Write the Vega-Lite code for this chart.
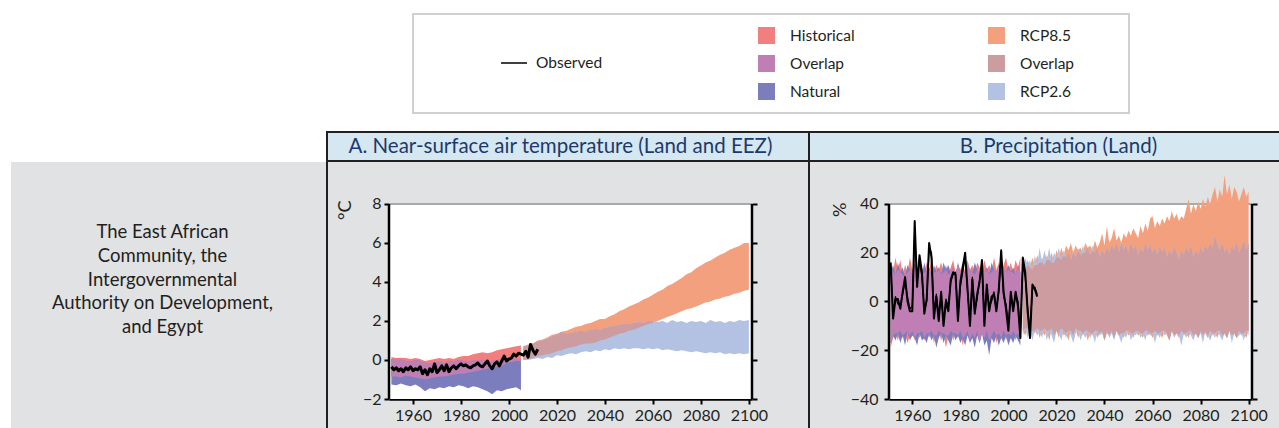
{
"$schema": "https://vega.github.io/schema/vega-lite/v6.json",
"padding": 0,
"background": "#e1e2e3",
"spacing": 0,
"datasets": {
"A1": [
{"t":1951,"hh":0.15,"hl":-0.85,"nh":0.05,"nl":-1.25},
{"t":1953,"hh":0.1,"hl":-0.85,"nh":0.0,"nl":-1.3},
{"t":1955,"hh":0.12,"hl":-0.9,"nh":0.02,"nl":-1.2},
{"t":1957,"hh":0.1,"hl":-0.8,"nh":-0.05,"nl":-1.3},
{"t":1959,"hh":0.05,"hl":-0.85,"nh":-0.1,"nl":-1.35},
{"t":1961,"hh":0.1,"hl":-0.9,"nh":0.0,"nl":-1.25},
{"t":1963,"hh":0.05,"hl":-0.95,"nh":-0.05,"nl":-1.4},
{"t":1965,"hh":-0.05,"hl":-1.0,"nh":-0.15,"nl":-1.6},
{"t":1967,"hh":0.0,"hl":-0.95,"nh":-0.2,"nl":-1.45},
{"t":1969,"hh":0.05,"hl":-0.9,"nh":-0.15,"nl":-1.5},
{"t":1971,"hh":0.1,"hl":-0.85,"nh":-0.1,"nl":-1.4},
{"t":1973,"hh":0.05,"hl":-0.85,"nh":-0.15,"nl":-1.45},
{"t":1975,"hh":0.1,"hl":-0.8,"nh":-0.05,"nl":-1.35},
{"t":1977,"hh":0.05,"hl":-0.75,"nh":-0.1,"nl":-1.4},
{"t":1979,"hh":0.15,"hl":-0.7,"nh":0.0,"nl":-1.3},
{"t":1981,"hh":0.2,"hl":-0.7,"nh":-0.05,"nl":-1.35},
{"t":1983,"hh":0.2,"hl":-0.65,"nh":-0.1,"nl":-1.45},
{"t":1985,"hh":0.3,"hl":-0.6,"nh":0.0,"nl":-1.35},
{"t":1987,"hh":0.35,"hl":-0.55,"nh":-0.05,"nl":-1.4},
{"t":1989,"hh":0.4,"hl":-0.5,"nh":0.0,"nl":-1.5},
{"t":1991,"hh":0.35,"hl":-0.45,"nh":-0.1,"nl":-1.6},
{"t":1993,"hh":0.4,"hl":-0.4,"nh":-0.05,"nl":-1.75},
{"t":1995,"hh":0.5,"hl":-0.35,"nh":0.0,"nl":-1.55},
{"t":1997,"hh":0.55,"hl":-0.3,"nh":0.05,"nl":-1.6},
{"t":1999,"hh":0.6,"hl":-0.15,"nh":0.1,"nl":-1.5},
{"t":2001,"hh":0.65,"hl":-0.1,"nh":0.1,"nl":-1.45},
{"t":2003,"hh":0.7,"hl":-0.05,"nh":0.05,"nl":-1.4},
{"t":2005,"hh":0.75,"hl":-0.05,"nh":0.05,"nl":-1.55}
],
"A2": [
{"t":2006,"eh":0.7,"el":0.0,"ch":0.7,"cl":0.0},
{"t":2008,"eh":0.8,"el":0.05,"ch":0.75,"cl":0.0},
{"t":2010,"eh":0.85,"el":0.1,"ch":0.85,"cl":0.05},
{"t":2012,"eh":1.0,"el":0.2,"ch":0.95,"cl":0.1},
{"t":2014,"eh":1.05,"el":0.25,"ch":1.0,"cl":0.05},
{"t":2016,"eh":1.15,"el":0.3,"ch":1.1,"cl":0.15},
{"t":2018,"eh":1.3,"el":0.35,"ch":1.2,"cl":0.1},
{"t":2020,"eh":1.35,"el":0.45,"ch":1.3,"cl":0.25},
{"t":2022,"eh":1.45,"el":0.5,"ch":1.45,"cl":0.2},
{"t":2024,"eh":1.5,"el":0.6,"ch":1.35,"cl":0.3},
{"t":2026,"eh":1.6,"el":0.65,"ch":1.4,"cl":0.35},
{"t":2028,"eh":1.7,"el":0.7,"ch":1.45,"cl":0.3},
{"t":2030,"eh":1.75,"el":0.8,"ch":1.5,"cl":0.4},
{"t":2032,"eh":1.85,"el":0.85,"ch":1.45,"cl":0.45},
{"t":2034,"eh":1.9,"el":0.85,"ch":1.55,"cl":0.4},
{"t":2036,"eh":2.0,"el":0.9,"ch":1.6,"cl":0.5},
{"t":2038,"eh":2.1,"el":1.0,"ch":1.55,"cl":0.45},
{"t":2040,"eh":2.1,"el":1.05,"ch":1.65,"cl":0.55},
{"t":2042,"eh":2.25,"el":1.15,"ch":1.7,"cl":0.5},
{"t":2044,"eh":2.35,"el":1.25,"ch":1.75,"cl":0.6},
{"t":2046,"eh":2.5,"el":1.35,"ch":1.8,"cl":0.55},
{"t":2048,"eh":2.6,"el":1.4,"ch":1.85,"cl":0.6},
{"t":2050,"eh":2.75,"el":1.5,"ch":1.85,"cl":0.55},
{"t":2052,"eh":2.85,"el":1.55,"ch":1.9,"cl":0.6},
{"t":2054,"eh":2.95,"el":1.65,"ch":1.95,"cl":0.6},
{"t":2056,"eh":3.1,"el":1.75,"ch":1.9,"cl":0.55},
{"t":2058,"eh":3.2,"el":1.85,"ch":2.0,"cl":0.6},
{"t":2060,"eh":3.35,"el":1.9,"ch":2.0,"cl":0.55},
{"t":2062,"eh":3.5,"el":2.0,"ch":1.95,"cl":0.6},
{"t":2064,"eh":3.6,"el":2.1,"ch":2.0,"cl":0.5},
{"t":2066,"eh":3.8,"el":2.2,"ch":1.9,"cl":0.55},
{"t":2068,"eh":3.9,"el":2.3,"ch":2.05,"cl":0.5},
{"t":2070,"eh":4.05,"el":2.4,"ch":1.95,"cl":0.45},
{"t":2072,"eh":4.2,"el":2.5,"ch":2.0,"cl":0.5},
{"t":2074,"eh":4.4,"el":2.6,"ch":1.9,"cl":0.45},
{"t":2076,"eh":4.5,"el":2.65,"ch":2.0,"cl":0.4},
{"t":2078,"eh":4.7,"el":2.75,"ch":1.95,"cl":0.45},
{"t":2080,"eh":4.85,"el":2.85,"ch":2.0,"cl":0.4},
{"t":2082,"eh":5.0,"el":2.95,"ch":1.9,"cl":0.35},
{"t":2084,"eh":5.1,"el":3.0,"ch":2.05,"cl":0.4},
{"t":2086,"eh":5.25,"el":3.1,"ch":1.95,"cl":0.35},
{"t":2088,"eh":5.4,"el":3.15,"ch":2.0,"cl":0.4},
{"t":2090,"eh":5.5,"el":3.25,"ch":1.9,"cl":0.3},
{"t":2092,"eh":5.65,"el":3.3,"ch":2.0,"cl":0.35},
{"t":2094,"eh":5.75,"el":3.4,"ch":1.95,"cl":0.3},
{"t":2096,"eh":5.85,"el":3.45,"ch":2.05,"cl":0.35},
{"t":2098,"eh":6.0,"el":3.55,"ch":2.0,"cl":0.3},
{"t":2100,"eh":6.0,"el":3.6,"ch":2.05,"cl":0.35}
],
"Aobs": [
{"t":1951,"v":-0.35},{"t":1952,"v":-0.5},{"t":1953,"v":-0.4},{"t":1954,"v":-0.55},{"t":1955,"v":-0.45},{"t":1956,"v":-0.6},{"t":1957,"v":-0.4},{"t":1958,"v":-0.5},{"t":1959,"v":-0.35},{"t":1960,"v":-0.55},
{"t":1961,"v":-0.45},{"t":1962,"v":-0.5},{"t":1963,"v":-0.35},{"t":1964,"v":-0.7},{"t":1965,"v":-0.5},{"t":1966,"v":-0.75},{"t":1967,"v":-0.45},{"t":1968,"v":-0.6},{"t":1969,"v":-0.2},{"t":1970,"v":-0.65},
{"t":1971,"v":-0.5},{"t":1972,"v":-0.3},{"t":1973,"v":-0.55},{"t":1974,"v":-0.25},{"t":1975,"v":-0.6},{"t":1976,"v":-0.4},{"t":1977,"v":-0.3},{"t":1978,"v":-0.45},{"t":1979,"v":-0.3},{"t":1980,"v":-0.2},
{"t":1981,"v":-0.3},{"t":1982,"v":-0.25},{"t":1983,"v":-0.35},{"t":1984,"v":-0.4},{"t":1985,"v":-0.3},{"t":1986,"v":-0.25},{"t":1987,"v":-0.15},{"t":1988,"v":-0.3},{"t":1989,"v":-0.35},{"t":1990,"v":-0.2},
{"t":1991,"v":-0.05},{"t":1992,"v":-0.3},{"t":1993,"v":-0.45},{"t":1994,"v":-0.2},{"t":1995,"v":-0.1},{"t":1996,"v":-0.3},{"t":1997,"v":-0.05},{"t":1998,"v":0.2},{"t":1999,"v":-0.05},{"t":2000,"v":0.05},
{"t":2001,"v":0.1},{"t":2002,"v":0.3},{"t":2003,"v":0.2},{"t":2004,"v":0.35},{"t":2005,"v":0.3},{"t":2006,"v":0.25},{"t":2007,"v":0.45},{"t":2008,"v":0.15},{"t":2009,"v":0.8},{"t":2010,"v":0.5},
{"t":2011,"v":0.3},{"t":2012,"v":0.55}
],
"B1": [
{"t":1951,"hh":16,"hl":-19,"nh":12,"nl":-17,"oh":12,"ol":-17},
{"t":1952,"hh":12,"hl":-15,"nh":15,"nl":-14,"oh":12,"ol":-14},
{"t":1953,"hh":18,"hl":-13,"nh":11,"nl":-16,"oh":11,"ol":-13},
{"t":1954,"hh":13,"hl":-16,"nh":16,"nl":-13,"oh":13,"ol":-13},
{"t":1955,"hh":17,"hl":-12,"nh":12,"nl":-17,"oh":12,"ol":-12},
{"t":1956,"hh":11,"hl":-15,"nh":14,"nl":-14,"oh":11,"ol":-14},
{"t":1957,"hh":15,"hl":-13,"nh":10,"nl":-18,"oh":10,"ol":-13},
{"t":1958,"hh":12,"hl":-17,"nh":15,"nl":-12,"oh":12,"ol":-12},
{"t":1959,"hh":18,"hl":-14,"nh":13,"nl":-16,"oh":13,"ol":-14},
{"t":1960,"hh":13,"hl":-12,"nh":11,"nl":-14,"oh":11,"ol":-12},
{"t":1961,"hh":15,"hl":-16,"nh":16,"nl":-15,"oh":15,"ol":-15},
{"t":1962,"hh":12,"hl":-13,"nh":12,"nl":-18,"oh":12,"ol":-13},
{"t":1963,"hh":17,"hl":-15,"nh":14,"nl":-13,"oh":14,"ol":-13},
{"t":1964,"hh":14,"hl":-12,"nh":11,"nl":-16,"oh":11,"ol":-12},
{"t":1965,"hh":12,"hl":-16,"nh":16,"nl":-15,"oh":12,"ol":-15},
{"t":1966,"hh":16,"hl":-13,"nh":12,"nl":-17,"oh":12,"ol":-13},
{"t":1967,"hh":13,"hl":-15,"nh":14,"nl":-13,"oh":13,"ol":-13},
{"t":1968,"hh":17,"hl":-12,"nh":11,"nl":-16,"oh":11,"ol":-12},
{"t":1969,"hh":12,"hl":-17,"nh":15,"nl":-14,"oh":12,"ol":-14},
{"t":1970,"hh":15,"hl":-14,"nh":12,"nl":-19,"oh":12,"ol":-14},
{"t":1971,"hh":13,"hl":-12,"nh":14,"nl":-15,"oh":13,"ol":-12},
{"t":1972,"hh":16,"hl":-16,"nh":11,"nl":-13,"oh":11,"ol":-13},
{"t":1973,"hh":12,"hl":-13,"nh":16,"nl":-17,"oh":12,"ol":-13},
{"t":1974,"hh":15,"hl":-19,"nh":13,"nl":-14,"oh":13,"ol":-14},
{"t":1975,"hh":11,"hl":-14,"nh":15,"nl":-16,"oh":11,"ol":-14},
{"t":1976,"hh":14,"hl":-12,"nh":12,"nl":-18,"oh":12,"ol":-12},
{"t":1977,"hh":17,"hl":-16,"nh":14,"nl":-13,"oh":14,"ol":-13},
{"t":1978,"hh":12,"hl":-13,"nh":11,"nl":-16,"oh":11,"ol":-13},
{"t":1979,"hh":15,"hl":-15,"nh":16,"nl":-14,"oh":15,"ol":-14},
{"t":1980,"hh":13,"hl":-12,"nh":12,"nl":-17,"oh":12,"ol":-12},
{"t":1981,"hh":16,"hl":-18,"nh":14,"nl":-15,"oh":14,"ol":-15},
{"t":1982,"hh":12,"hl":-14,"nh":11,"nl":-18,"oh":11,"ol":-14},
{"t":1983,"hh":17,"hl":-12,"nh":15,"nl":-14,"oh":15,"ol":-12},
{"t":1984,"hh":13,"hl":-16,"nh":13,"nl":-17,"oh":13,"ol":-16},
{"t":1985,"hh":15,"hl":-13,"nh":12,"nl":-15,"oh":12,"ol":-13},
{"t":1986,"hh":11,"hl":-15,"nh":16,"nl":-19,"oh":11,"ol":-15},
{"t":1987,"hh":16,"hl":-12,"nh":13,"nl":-14,"oh":13,"ol":-12},
{"t":1988,"hh":14,"hl":-17,"nh":11,"nl":-17,"oh":11,"ol":-17},
{"t":1989,"hh":12,"hl":-13,"nh":15,"nl":-13,"oh":12,"ol":-13},
{"t":1990,"hh":17,"hl":-15,"nh":12,"nl":-18,"oh":12,"ol":-15},
{"t":1991,"hh":13,"hl":-12,"nh":14,"nl":-16,"oh":13,"ol":-12},
{"t":1992,"hh":15,"hl":-16,"nh":11,"nl":-22,"oh":11,"ol":-16},
{"t":1993,"hh":12,"hl":-14,"nh":16,"nl":-15,"oh":12,"ol":-14},
{"t":1994,"hh":18,"hl":-12,"nh":13,"nl":-17,"oh":13,"ol":-12},
{"t":1995,"hh":13,"hl":-17,"nh":12,"nl":-14,"oh":12,"ol":-14},
{"t":1996,"hh":16,"hl":-13,"nh":15,"nl":-18,"oh":15,"ol":-13},
{"t":1997,"hh":12,"hl":-15,"nh":11,"nl":-15,"oh":11,"ol":-15},
{"t":1998,"hh":15,"hl":-12,"nh":14,"nl":-17,"oh":14,"ol":-12},
{"t":1999,"hh":18,"hl":-16,"nh":12,"nl":-14,"oh":12,"ol":-14},
{"t":2000,"hh":13,"hl":-13,"nh":15,"nl":-18,"oh":13,"ol":-13},
{"t":2001,"hh":16,"hl":-14,"nh":12,"nl":-15,"oh":12,"ol":-14},
{"t":2002,"hh":12,"hl":-12,"nh":14,"nl":-17,"oh":12,"ol":-12},
{"t":2003,"hh":17,"hl":-16,"nh":11,"nl":-14,"oh":11,"ol":-14},
{"t":2004,"hh":14,"hl":-13,"nh":15,"nl":-16,"oh":14,"ol":-13},
{"t":2005,"hh":18,"hl":-15,"nh":12,"nl":-18,"oh":12,"ol":-15}
],
"B2": [
{"t":2006,"eh":16,"el":-12,"ch":14,"cl":-14,"oh":14,"ol":-12},
{"t":2007,"eh":13,"el":-14,"ch":18,"cl":-11,"oh":13,"ol":-11},
{"t":2008,"eh":17,"el":-11,"ch":15,"cl":-15,"oh":15,"ol":-11},
{"t":2009,"eh":14,"el":-15,"ch":17,"cl":-12,"oh":14,"ol":-12},
{"t":2010,"eh":18,"el":-12,"ch":13,"cl":-16,"oh":13,"ol":-12},
{"t":2011,"eh":15,"el":-13,"ch":19,"cl":-12,"oh":15,"ol":-12},
{"t":2012,"eh":19,"el":-11,"ch":15,"cl":-14,"oh":15,"ol":-11},
{"t":2013,"eh":16,"el":-15,"ch":22,"cl":-12,"oh":16,"ol":-12},
{"t":2014,"eh":18,"el":-12,"ch":16,"cl":-15,"oh":16,"ol":-12},
{"t":2015,"eh":15,"el":-14,"ch":21,"cl":-11,"oh":15,"ol":-11},
{"t":2016,"eh":19,"el":-12,"ch":17,"cl":-16,"oh":17,"ol":-12},
{"t":2017,"eh":17,"el":-16,"ch":22,"cl":-12,"oh":17,"ol":-12},
{"t":2018,"eh":20,"el":-11,"ch":16,"cl":-14,"oh":16,"ol":-11},
{"t":2019,"eh":16,"el":-14,"ch":20,"cl":-17,"oh":16,"ol":-14},
{"t":2020,"eh":21,"el":-12,"ch":18,"cl":-12,"oh":18,"ol":-12},
{"t":2021,"eh":18,"el":-15,"ch":22,"cl":-13,"oh":18,"ol":-13},
{"t":2022,"eh":22,"el":-11,"ch":17,"cl":-16,"oh":17,"ol":-11},
{"t":2023,"eh":19,"el":-14,"ch":21,"cl":-12,"oh":19,"ol":-12},
{"t":2024,"eh":23,"el":-13,"ch":18,"cl":-15,"oh":18,"ol":-13},
{"t":2025,"eh":21,"el":-16,"ch":20,"cl":-12,"oh":20,"ol":-12},
{"t":2026,"eh":24,"el":-12,"ch":17,"cl":-14,"oh":17,"ol":-12},
{"t":2027,"eh":20,"el":-14,"ch":21,"cl":-17,"oh":20,"ol":-14},
{"t":2028,"eh":23,"el":-11,"ch":18,"cl":-13,"oh":18,"ol":-11},
{"t":2029,"eh":21,"el":-15,"ch":22,"cl":-12,"oh":21,"ol":-12},
{"t":2030,"eh":22,"el":-12,"ch":19,"cl":-16,"oh":19,"ol":-12},
{"t":2031,"eh":20,"el":-14,"ch":23,"cl":-13,"oh":20,"ol":-13},
{"t":2032,"eh":24,"el":-12,"ch":20,"cl":-15,"oh":20,"ol":-12},
{"t":2033,"eh":22,"el":-16,"ch":22,"cl":-12,"oh":22,"ol":-12},
{"t":2034,"eh":23,"el":-13,"ch":19,"cl":-15,"oh":19,"ol":-13},
{"t":2035,"eh":21,"el":-14,"ch":23,"cl":-13,"oh":21,"ol":-13},
{"t":2036,"eh":25,"el":-12,"ch":20,"cl":-17,"oh":20,"ol":-12},
{"t":2037,"eh":22,"el":-15,"ch":22,"cl":-12,"oh":22,"ol":-12},
{"t":2038,"eh":24,"el":-13,"ch":18,"cl":-14,"oh":18,"ol":-13},
{"t":2039,"eh":28,"el":-12,"ch":21,"cl":-13,"oh":21,"ol":-12},
{"t":2040,"eh":23,"el":-16,"ch":19,"cl":-16,"oh":19,"ol":-16},
{"t":2041,"eh":31,"el":-13,"ch":22,"cl":-12,"oh":22,"ol":-12},
{"t":2042,"eh":24,"el":-14,"ch":20,"cl":-15,"oh":20,"ol":-14},
{"t":2043,"eh":26,"el":-12,"ch":23,"cl":-13,"oh":23,"ol":-12},
{"t":2044,"eh":30,"el":-15,"ch":21,"cl":-16,"oh":21,"ol":-15},
{"t":2045,"eh":25,"el":-12,"ch":24,"cl":-12,"oh":24,"ol":-12},
{"t":2046,"eh":27,"el":-14,"ch":20,"cl":-14,"oh":20,"ol":-14},
{"t":2047,"eh":24,"el":-13,"ch":25,"cl":-17,"oh":24,"ol":-13},
{"t":2048,"eh":28,"el":-15,"ch":21,"cl":-13,"oh":21,"ol":-13},
{"t":2049,"eh":26,"el":-12,"ch":23,"cl":-15,"oh":23,"ol":-12},
{"t":2050,"eh":29,"el":-14,"ch":20,"cl":-12,"oh":20,"ol":-12},
{"t":2051,"eh":27,"el":-13,"ch":24,"cl":-16,"oh":24,"ol":-13},
{"t":2052,"eh":30,"el":-15,"ch":21,"cl":-13,"oh":21,"ol":-13},
{"t":2053,"eh":28,"el":-12,"ch":23,"cl":-14,"oh":23,"ol":-12},
{"t":2054,"eh":26,"el":-14,"ch":19,"cl":-12,"oh":19,"ol":-12},
{"t":2055,"eh":31,"el":-13,"ch":22,"cl":-15,"oh":22,"ol":-13},
{"t":2056,"eh":28,"el":-15,"ch":20,"cl":-13,"oh":20,"ol":-13},
{"t":2057,"eh":32,"el":-12,"ch":24,"cl":-16,"oh":24,"ol":-12},
{"t":2058,"eh":29,"el":-14,"ch":21,"cl":-12,"oh":21,"ol":-12},
{"t":2059,"eh":34,"el":-13,"ch":23,"cl":-14,"oh":23,"ol":-13},
{"t":2060,"eh":35,"el":-15,"ch":20,"cl":-13,"oh":20,"ol":-13},
{"t":2061,"eh":30,"el":-12,"ch":22,"cl":-17,"oh":22,"ol":-12},
{"t":2062,"eh":33,"el":-14,"ch":19,"cl":-13,"oh":19,"ol":-13},
{"t":2063,"eh":31,"el":-13,"ch":23,"cl":-15,"oh":23,"ol":-13},
{"t":2064,"eh":34,"el":-15,"ch":20,"cl":-12,"oh":20,"ol":-12},
{"t":2065,"eh":32,"el":-12,"ch":22,"cl":-14,"oh":22,"ol":-12},
{"t":2066,"eh":35,"el":-14,"ch":18,"cl":-13,"oh":18,"ol":-13},
{"t":2067,"eh":33,"el":-16,"ch":21,"cl":-16,"oh":21,"ol":-16},
{"t":2068,"eh":37,"el":-12,"ch":19,"cl":-12,"oh":19,"ol":-12},
{"t":2069,"eh":34,"el":-14,"ch":22,"cl":-15,"oh":22,"ol":-14},
{"t":2070,"eh":36,"el":-13,"ch":20,"cl":-13,"oh":20,"ol":-13},
{"t":2071,"eh":33,"el":-15,"ch":17,"cl":-14,"oh":17,"ol":-14},
{"t":2072,"eh":35,"el":-12,"ch":21,"cl":-18,"oh":21,"ol":-12},
{"t":2073,"eh":34,"el":-14,"ch":19,"cl":-13,"oh":19,"ol":-13},
{"t":2074,"eh":38,"el":-13,"ch":22,"cl":-15,"oh":22,"ol":-13},
{"t":2075,"eh":42,"el":-15,"ch":20,"cl":-12,"oh":20,"ol":-12},
{"t":2076,"eh":36,"el":-12,"ch":23,"cl":-14,"oh":23,"ol":-12},
{"t":2077,"eh":40,"el":-14,"ch":18,"cl":-16,"oh":18,"ol":-14},
{"t":2078,"eh":37,"el":-13,"ch":21,"cl":-13,"oh":21,"ol":-13},
{"t":2079,"eh":41,"el":-15,"ch":19,"cl":-15,"oh":19,"ol":-15},
{"t":2080,"eh":38,"el":-12,"ch":22,"cl":-13,"oh":22,"ol":-12},
{"t":2081,"eh":42,"el":-14,"ch":20,"cl":-17,"oh":20,"ol":-14},
{"t":2082,"eh":39,"el":-13,"ch":23,"cl":-12,"oh":23,"ol":-12},
{"t":2083,"eh":43,"el":-15,"ch":21,"cl":-14,"oh":21,"ol":-14},
{"t":2084,"eh":40,"el":-12,"ch":24,"cl":-16,"oh":24,"ol":-12},
{"t":2085,"eh":44,"el":-14,"ch":22,"cl":-13,"oh":22,"ol":-13},
{"t":2086,"eh":47,"el":-13,"ch":27,"cl":-15,"oh":27,"ol":-13},
{"t":2087,"eh":41,"el":-15,"ch":23,"cl":-12,"oh":23,"ol":-12},
{"t":2088,"eh":46,"el":-12,"ch":21,"cl":-14,"oh":21,"ol":-12},
{"t":2089,"eh":43,"el":-14,"ch":24,"cl":-16,"oh":24,"ol":-14},
{"t":2090,"eh":52,"el":-13,"ch":20,"cl":-13,"oh":20,"ol":-13},
{"t":2091,"eh":44,"el":-15,"ch":22,"cl":-15,"oh":22,"ol":-15},
{"t":2092,"eh":48,"el":-12,"ch":19,"cl":-12,"oh":19,"ol":-12},
{"t":2093,"eh":42,"el":-14,"ch":23,"cl":-17,"oh":23,"ol":-14},
{"t":2094,"eh":47,"el":-13,"ch":21,"cl":-13,"oh":21,"ol":-13},
{"t":2095,"eh":45,"el":-15,"ch":24,"cl":-15,"oh":24,"ol":-15},
{"t":2096,"eh":41,"el":-12,"ch":20,"cl":-14,"oh":20,"ol":-12},
{"t":2097,"eh":44,"el":-14,"ch":22,"cl":-13,"oh":22,"ol":-13},
{"t":2098,"eh":47,"el":-13,"ch":25,"cl":-16,"oh":25,"ol":-13},
{"t":2099,"eh":43,"el":-15,"ch":21,"cl":-12,"oh":21,"ol":-12},
{"t":2100,"eh":45,"el":-12,"ch":24,"cl":-14,"oh":24,"ol":-12}
],
"Bobs": [
{"t":1951,"o1":16,"o2":14},{"t":1952,"o1":-7,"o2":-5},{"t":1953,"o1":1,"o2":2},{"t":1954,"o1":1,"o2":-1},{"t":1955,"o1":-3,"o2":-2},{"t":1956,"o1":4,"o2":3},{"t":1957,"o1":10,"o2":8},{"t":1958,"o1":0,"o2":2},{"t":1959,"o1":-4,"o2":-3},{"t":1960,"o1":-4,"o2":-2},
{"t":1961,"o1":33,"o2":28},{"t":1962,"o1":6,"o2":8},{"t":1963,"o1":19,"o2":17},{"t":1964,"o1":12,"o2":10},{"t":1965,"o1":-5,"o2":-3},{"t":1966,"o1":1,"o2":0},{"t":1967,"o1":24,"o2":22},{"t":1968,"o1":18,"o2":20},{"t":1969,"o1":-7,"o2":-5},{"t":1970,"o1":2,"o2":3},
{"t":1971,"o1":-8,"o2":-6},{"t":1972,"o1":4,"o2":2},{"t":1973,"o1":-10,"o2":-8},{"t":1974,"o1":0,"o2":1},{"t":1975,"o1":-4,"o2":-2},{"t":1976,"o1":9,"o2":8},{"t":1977,"o1":12,"o2":11},{"t":1978,"o1":11,"o2":12},{"t":1979,"o1":-8,"o2":-6},{"t":1980,"o1":8,"o2":6},
{"t":1981,"o1":14,"o2":12},{"t":1982,"o1":20,"o2":18},{"t":1983,"o1":5,"o2":4},{"t":1984,"o1":-10,"o2":-8},{"t":1985,"o1":9,"o2":10},{"t":1986,"o1":-5,"o2":-4},{"t":1987,"o1":3,"o2":1},{"t":1988,"o1":8,"o2":9},{"t":1989,"o1":17,"o2":15},{"t":1990,"o1":-10,"o2":-8},
{"t":1991,"o1":7,"o2":5},{"t":1992,"o1":-4,"o2":-2},{"t":1993,"o1":2,"o2":0},{"t":1994,"o1":3,"o2":4},{"t":1995,"o1":-4,"o2":-3},{"t":1996,"o1":5,"o2":4},{"t":1997,"o1":21,"o2":19},{"t":1998,"o1":4,"o2":2},{"t":1999,"o1":-3,"o2":-1},{"t":2000,"o1":-12,"o2":-9},
{"t":2001,"o1":4,"o2":2},{"t":2002,"o1":-4,"o2":-3},{"t":2003,"o1":4,"o2":3},{"t":2004,"o1":-2,"o2":0},{"t":2005,"o1":-15,"o2":-12},{"t":2006,"o1":18,"o2":15},{"t":2007,"o1":12,"o2":10},{"t":2008,"o1":-4,"o2":-2},{"t":2009,"o1":-15,"o2":-12},{"t":2010,"o1":7,"o2":5},
{"t":2011,"o1":5,"o2":6},{"t":2012,"o1":2,"o2":3}
]
},
"vconcat": [
{"width":1279,"height":13,"data":{"values":[]},"mark":"rect","view":{"fill":"white"}},
{"hconcat":[
{"width":412,"height":2,"data":{"values":[]},"mark":"rect","view":{"fill":"white"}},
{"width":718,"height":2,"data":{"values":[]},"mark":"rect","view":{"fill":"#d0d0d0"}},
{"width":149,"height":2,"data":{"values":[]},"mark":"rect","view":{"fill":"white"}}
],"spacing":0,"bounds":"flush"},
{"hconcat":[
{"width":412,"height":97,"data":{"values":[]},"mark":"rect","view":{"fill":"white"}},
{"width":2,"height":97,"data":{"values":[]},"mark":"rect","view":{"fill":"#d0d0d0"}},
{"width":714,"height":97,"data":{"values":[]},"mark":"rect","view":{"fill":"white"}},
{"width":2,"height":97,"data":{"values":[]},"mark":"rect","view":{"fill":"#d0d0d0"}},
{"width":149,"height":97,"data":{"values":[]},"mark":"rect","view":{"fill":"white"}}
],"spacing":0,"bounds":"flush"},
{"hconcat":[
{"width":412,"height":2,"data":{"values":[]},"mark":"rect","view":{"fill":"white"}},
{"width":718,"height":2,"data":{"values":[]},"mark":"rect","view":{"fill":"#d0d0d0"}},
{"width":149,"height":2,"data":{"values":[]},"mark":"rect","view":{"fill":"white"}}
],"spacing":0,"bounds":"flush"},
{"width":1279,"height":17,"data":{"values":[]},"mark":"rect","view":{"fill":"white"}},
{"hconcat":[
{"width":326,"height":2,"data":{"values":[]},"mark":"rect","view":{"fill":"white"}},
{"width":953,"height":2,"data":{"values":[]},"mark":"rect","view":{"fill":"#231f20"}}
],"spacing":0,"bounds":"flush"},
{"hconcat":[
{"width":326,"height":27,"data":{"values":[]},"mark":"rect","view":{"fill":"white"}},
{"width":2,"height":27,"data":{"values":[]},"mark":"rect","view":{"fill":"#231f20"}},
{"width":480,"height":27,"data":{"values":[{"t":"A. Near-surface air temperature (Land and EEZ)"}]},"mark":{"type":"text","fontSize":20.5,"color":"#1d3a6c","dx":-7.5},"encoding":{"text":{"field":"t","type":"nominal"}},"view":{"fill":"#d5e7f1"}},
{"width":2,"height":27,"data":{"values":[]},"mark":"rect","view":{"fill":"#231f20"}},
{"width":469,"height":27,"data":{"values":[{"t":"B. Precipitation (Land)"}]},"mark":{"type":"text","fontSize":20.5,"color":"#1d3a6c","dx":14},"encoding":{"text":{"field":"t","type":"nominal"}},"view":{"fill":"#d5e7f1"}}
],"spacing":0,"bounds":"flush"},
{"hconcat":[
{"width":326,"height":2,"data":{"values":[]},"mark":"rect","view":{"fill":"white"}},
{"width":953,"height":2,"data":{"values":[]},"mark":"rect","view":{"fill":"#231f20"}}
],"spacing":0,"bounds":"flush"},
{"hconcat":[
{"width":11,"height":266,"data":{"values":[]},"mark":"rect","view":{"fill":"white"}},
{"width":315,"height":266,"data":{"values":[{"t":"The East African\nCommunity, the\nIntergovernmental\nAuthority on Development,\nand Egypt"}]},"mark":{"type":"text","lineBreak":"\n","fontSize":18.5,"lineHeight":23.75,"color":"#231f20","dx":-6,"dy":-63},"encoding":{"text":{"field":"t","type":"nominal"}},"view":{"fill":"#e1e2e3"}},
{"width":2,"height":266,"data":{"values":[]},"mark":"rect","view":{"fill":"#231f20"}},
{"width":61,"height":266,"data":{"values":[]},"mark":"rect"},
{"width":363,"height":237,
"resolve":{"axis":{"y":"independent"}},
"layer":[
{"data":{"values":[{}]},"mark":{"type":"rect","color":"white"},"encoding":{
"x":{"datum":1950,"type":"quantitative","scale":{"domain":[1950,2101.3],"nice":false,"zero":false},"axis":{"values":[1960,1980,2000,2020,2040,2060,2080,2100],"format":"d","title":null,"labelFontSize":16,"tickSize":5,"labelPadding":3,"domainWidth":2.5,"tickWidth":2,"labelFlush":false}},
"x2":{"datum":2101.3},
"y":{"datum":-2,"type":"quantitative","scale":{"domain":[-2,10.1538],"nice":false,"zero":false},"axis":{"orient":"left","domain":false,"values":[-2,0,2,4,6,8],"title":"°C","titleAnchor":"end","titleAlign":"right","titleY":38,"titleFontSize":18,"titleFontWeight":"normal","titlePadding":10,"labelFontSize":16,"tickSize":5,"labelPadding":3,"tickWidth":2,"minExtent":25,"maxExtent":25}},
"y2":{"datum":8}}},
{"data":{"values":[{}]},"mark":{"type":"rule","color":"#a9a9a9","strokeWidth":2},"encoding":{"x":{"datum":1950},"x2":{"datum":2101.3},"y":{"datum":8,"axis":null}}},
{"data":{"name":"A1"},"mark":{"type":"area","opacity":1},"encoding":{"x":{"field":"t","type":"quantitative"},"y":{"field":"hh","type":"quantitative","axis":null},"y2":{"field":"hl"},
"color":{"datum":"Historical","scale":{"domain":["Historical","OverlapH","Natural","RCP8.5","OverlapR","RCP2.6"],"range":["#f17f80","#bf7fb5","#7b7dbd","#f3a07f","#cc9ca1","#b3c2e3"]},
"legend":{"orient":"none","legendX":758,"legendY":27,"columns":2,"columnPadding":133,"rowPadding":11,"symbolType":"square","symbolSize":289,"symbolStrokeWidth":0,"symbolOpacity":1,"labelFontSize":15.5,"labelOffset":15,"padding":0,"title":null,"labelExpr":"datum.label == 'OverlapH' || datum.label == 'OverlapR' ? 'Overlap' : datum.label"}}}},
{"data":{"name":"A1"},"mark":{"type":"area","opacity":1},"encoding":{"x":{"field":"t","type":"quantitative"},"y":{"field":"nh","type":"quantitative","axis":null},"y2":{"field":"nl"},"color":{"datum":"Natural"}}},
{"data":{"name":"A1"},"mark":{"type":"area","opacity":1},"encoding":{"x":{"field":"t","type":"quantitative"},"y":{"field":"nh","type":"quantitative","axis":null},"y2":{"field":"hl"},"color":{"datum":"OverlapH"}}},
{"data":{"name":"A2"},"mark":{"type":"area","opacity":1},"encoding":{"x":{"field":"t","type":"quantitative"},"y":{"field":"eh","type":"quantitative","axis":null},"y2":{"field":"el"},"color":{"datum":"RCP8.5"}}},
{"data":{"name":"A2"},"mark":{"type":"area","opacity":1},"encoding":{"x":{"field":"t","type":"quantitative"},"y":{"field":"ch","type":"quantitative","axis":null},"y2":{"field":"cl"},"color":{"datum":"RCP2.6"}}},
{"data":{"name":"A2"},"transform":[{"filter":"datum.ch >= datum.el"}],"mark":{"type":"area","opacity":1},"encoding":{"x":{"field":"t","type":"quantitative"},"y":{"field":"ch","type":"quantitative","axis":null},"y2":{"field":"el"},"color":{"datum":"OverlapR"}}},
{"data":{"name":"Aobs"},"mark":{"type":"line","strokeWidth":3,"strokeJoin":"round"},"encoding":{"x":{"field":"t","type":"quantitative"},
"y":{"field":"v","type":"quantitative","axis":{"orient":"right","domain":false,"values":[-2,0,2,4,6,8],"labels":false,"title":null,"tickSize":5,"tickWidth":2}},
"stroke":{"datum":"Observed","scale":{"domain":["Observed"],"range":["#000000"]},"legend":{"orient":"none","legendX":500,"legendY":49,"symbolType":"stroke","symbolSize":676,"symbolStrokeWidth":1.5,"labelFontSize":15.5,"labelOffset":8,"padding":0,"title":null}}}},
{"data":{"values":[{}]},"mark":{"type":"rule","color":"#000000","strokeWidth":2.5},"encoding":{"x":{"datum":1950},"y":{"datum":-2,"axis":null},"y2":{"datum":8}}},
{"data":{"values":[{}]},"mark":{"type":"rule","color":"#000000","strokeWidth":2.5},"encoding":{"x":{"datum":2101.3},"y":{"datum":-2,"axis":null},"y2":{"datum":8}}}
]
},
{"width":56,"height":266,"data":{"values":[]},"mark":"rect"},
{"width":2,"height":266,"data":{"values":[]},"mark":"rect","view":{"fill":"#231f20"}},
{"width":79,"height":266,"data":{"values":[]},"mark":"rect"},
{"width":363,"height":237,
"resolve":{"axis":{"y":"independent"}},
"layer":[
{"data":{"values":[{}]},"mark":{"type":"rect","color":"white"},"encoding":{
"x":{"datum":1950.3,"type":"quantitative","scale":{"domain":[1950.3,2101.4],"nice":false,"zero":false},"axis":{"values":[1960,1980,2000,2020,2040,2060,2080,2100],"format":"d","title":null,"labelFontSize":16,"tickSize":5,"labelPadding":3,"domainWidth":2.5,"tickWidth":2,"labelFlush":false}},
"x2":{"datum":2101.4},
"y":{"datum":-40,"type":"quantitative","scale":{"domain":[-40,57.23],"nice":false,"zero":false},"axis":{"orient":"left","domain":false,"values":[-40,-20,0,20,40],"title":"%","titleAnchor":"end","titleAlign":"right","titleY":40,"titleFontSize":18,"titleFontWeight":"normal","titlePadding":3,"labelFontSize":16,"tickSize":5,"labelPadding":6,"tickWidth":2,"minExtent":37,"maxExtent":37}},
"y2":{"datum":40}}},
{"data":{"values":[{}]},"mark":{"type":"rule","color":"#a9a9a9","strokeWidth":2},"encoding":{"x":{"datum":1950.3},"x2":{"datum":2101.4},"y":{"datum":40,"axis":null}}},
{"data":{"name":"B1"},"mark":{"type":"area","opacity":1},"encoding":{"x":{"field":"t","type":"quantitative"},"y":{"field":"hh","type":"quantitative","axis":null},"y2":{"field":"hl"},"color":{"datum":"Historical"}}},
{"data":{"name":"B1"},"mark":{"type":"area","opacity":1},"encoding":{"x":{"field":"t","type":"quantitative"},"y":{"field":"nh","type":"quantitative","axis":null},"y2":{"field":"nl"},"color":{"datum":"Natural"}}},
{"data":{"name":"B1"},"mark":{"type":"area","opacity":1},"encoding":{"x":{"field":"t","type":"quantitative"},"y":{"field":"oh","type":"quantitative","axis":null},"y2":{"field":"ol"},"color":{"datum":"OverlapH"}}},
{"data":{"name":"B2"},"mark":{"type":"area","opacity":1},"encoding":{"x":{"field":"t","type":"quantitative"},"y":{"field":"eh","type":"quantitative","axis":null},"y2":{"field":"el"},"color":{"datum":"RCP8.5"}}},
{"data":{"name":"B2"},"mark":{"type":"area","opacity":1},"encoding":{"x":{"field":"t","type":"quantitative"},"y":{"field":"ch","type":"quantitative","axis":null},"y2":{"field":"cl"},"color":{"datum":"RCP2.6"}}},
{"data":{"name":"B2"},"mark":{"type":"area","opacity":1},"encoding":{"x":{"field":"t","type":"quantitative"},"y":{"field":"oh","type":"quantitative","axis":null},"y2":{"field":"ol"},"color":{"datum":"OverlapR"}}},
{"data":{"name":"Bobs"},"mark":{"type":"line","strokeWidth":1.2,"strokeJoin":"round"},"encoding":{"x":{"field":"t","type":"quantitative"},"y":{"field":"o2","type":"quantitative","axis":null},"stroke":{"datum":"Observed"}}},
{"data":{"name":"Bobs"},"mark":{"type":"line","strokeWidth":2,"strokeJoin":"round"},"encoding":{"x":{"field":"t","type":"quantitative"},
"y":{"field":"o1","type":"quantitative","axis":{"orient":"right","domain":false,"values":[-40,-20,0,20,40],"labels":false,"title":null,"tickSize":5,"tickWidth":2}},
"stroke":{"datum":"Observed"}}},
{"data":{"values":[{}]},"mark":{"type":"rule","color":"#000000","strokeWidth":2.5},"encoding":{"x":{"datum":1950.3},"y":{"datum":-40,"axis":null},"y2":{"datum":40}}},
{"data":{"values":[{}]},"mark":{"type":"rule","color":"#000000","strokeWidth":2.5},"encoding":{"x":{"datum":2101.4},"y":{"datum":-40,"axis":null},"y2":{"datum":40}}}
]
},
{"width":27,"height":266,"data":{"values":[]},"mark":"rect"}
],"spacing":0,"bounds":"flush"}
],
"config": {
"view": {"stroke": null},
"font": "Lato",
"concat": {"spacing": 0},
"axis": {"labelFont":"Lato","titleFont":"Lato","labelColor":"#231f20","titleColor":"#231f20","domainColor":"#000000","tickColor":"#000000","grid":false},
"legend": {"labelFont":"Lato","labelColor":"#231f20"},
"text": {"font":"Lato"}
}
}
